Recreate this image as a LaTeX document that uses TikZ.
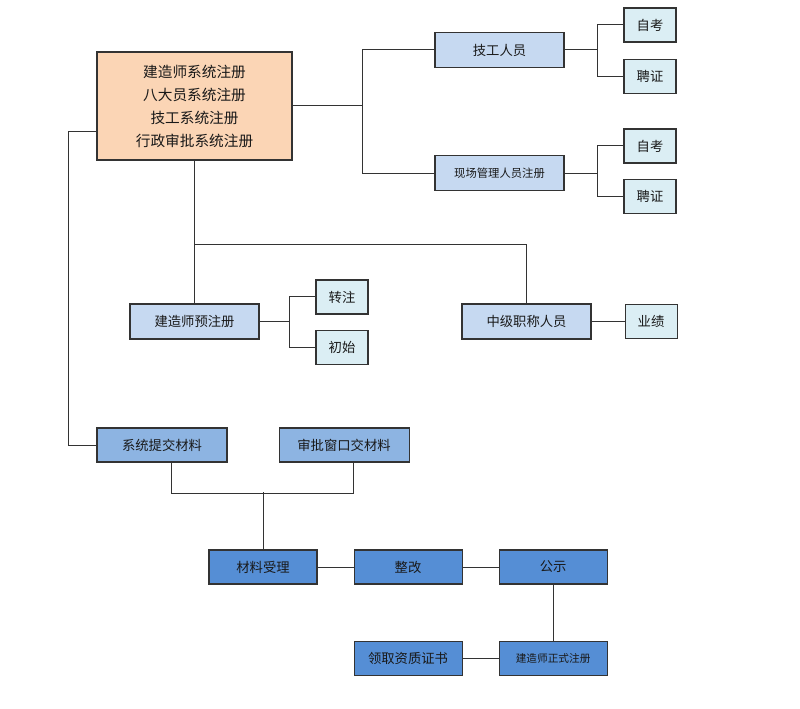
\documentclass[tikz,border=0pt]{standalone}
\usepackage{fontspec}
\newfontfamily\cjk{Noto Sans CJK SC}
\usepackage{xcolor}
\usepackage{tikz}
\usetikzlibrary{positioning}

\definecolor{peachfill}{HTML}{FBD5B5}
\definecolor{rolefill}{HTML}{C6D9F1}
\definecolor{leaffill}{HTML}{DBEEF4}
\definecolor{submitfill}{HTML}{8DB4E2}
\definecolor{stepfill}{HTML}{558ED5}
\definecolor{edgegray}{HTML}{333333}

\begin{document}
\begin{tikzpicture}[
    x=0.75pt, y=-0.75pt,
    base/.style={rectangle, draw=edgegray, line width=0.8pt, inner sep=0pt, align=center, text=black!90},
    mainbox/.style={base, fill=peachfill, minimum width=146.25pt, minimum height=81pt, font=\cjk\fontsize{11}{17.25}\selectfont},
    rolebox/.style={base, fill=rolefill, minimum width=96.75pt, minimum height=26.25pt, font=\cjk\fontsize{10}{12}\selectfont},
    leafbox/.style={base, fill=leaffill, minimum width=39pt, minimum height=25.5pt, font=\cjk\fontsize{10}{12}\selectfont},
    submitbox/.style={base, fill=submitfill, minimum width=97.5pt, minimum height=25.5pt, font=\cjk\fontsize{10}{12}\selectfont},
    stepbox/.style={base, fill=stepfill, minimum width=81pt, minimum height=25.5pt, font=\cjk\fontsize{10}{12}\selectfont},
    small/.style={font=\cjk\fontsize{8.5}{10}\selectfont},
    link/.style={draw=edgegray, line width=0.75pt}
]
    \useasboundingbox (0,0) rectangle (800,709);

    % registration entry
    \node[mainbox] (main) at (194.5,106) {建造师系统注册\\八大员系统注册\\技工系统注册\\行政审批系统注册};

    % staff branches
    \node[rolebox] (jg) at (499.5,50) {技工人员};
    \node[rolebox, small, below=65.25pt of jg] (xc) {现场管理人员注册};
    \node[leafbox] (zk1) at (650,25) {自考};
    \node[leafbox, below=12pt of zk1] (pz1) {聘证};
    \node[leafbox] (zk2) at (650,146) {自考};
    \node[leafbox, below=11.25pt of zk2] (pz2) {聘证};

    \draw[link] (main.east) -- ++(70,0) coordinate (mj);
    \draw[link] (jg.west) -| (mj) |- (xc.west);
    \draw[link] (jg.east) -- ++(33,0) coordinate (jb);
    \draw[link] (zk1.west) -| (jb) |- (pz1.west);
    \draw[link] (xc.east) -- ++(33,0) coordinate (xb);
    \draw[link] (zk2.west) -| (xb) |- (pz2.west);

    % pre-registration and titles
    \node[rolebox] (yz) at (194.5,321.5) {建造师预注册};
    \node[rolebox] (zj) at (526.5,321.5) {中级职称人员};
    \node[leafbox] (zz) at (342,297) {转注};
    \node[leafbox, below=11.25pt of zz] (cs) {初始};
    \node[leafbox, right=24.75pt of zj] (yj) {业绩};

    \draw[link] (main.south) -- (yz.north);
    \draw[link] (main.south) ++(0,84) -| (zj.north);
    \draw[link] (yz.east) -- ++(30,0) coordinate (yb);
    \draw[link] (zz.west) -| (yb) |- (cs.west);
    \draw[link] (zj) -- (yj);

    % material submission
    \node[submitbox] (tj) at (162,445) {系统提交材料};
    \node[submitbox, right=38.25pt of tj] (sp) {审批窗口交材料};
    \draw[link] (main.south west) ++(0,-29) -- ++(-28,0) |- (tj.west);

    % processing steps
    \node[stepbox] (sl) at (263,567) {材料受理};
    \node[stepbox, right=27pt of sl] (zg) {整改};
    \node[stepbox, right=27pt of zg] (gs) {公示};
    \node[stepbox, small, font=\cjk\fontsize{8}{10}\selectfont, below=42pt of gs] (zs) {建造师正式注册};
    \node[stepbox, left=27pt of zs] (lq) {领取资质证书};

    \draw[link] ([xshift=6.75pt]tj.south) -- ++(0,31) -| ([xshift=6.75pt]sp.south);
    \draw[link] (sl.north) -- ++(0,-57);
    \draw[link] (sl) -- (zg);
    \draw[link] (zg) -- (gs);
    \draw[link] (gs) -- (zs);
    \draw[link] (zs) -- (lq);
\end{tikzpicture}
\end{document}
